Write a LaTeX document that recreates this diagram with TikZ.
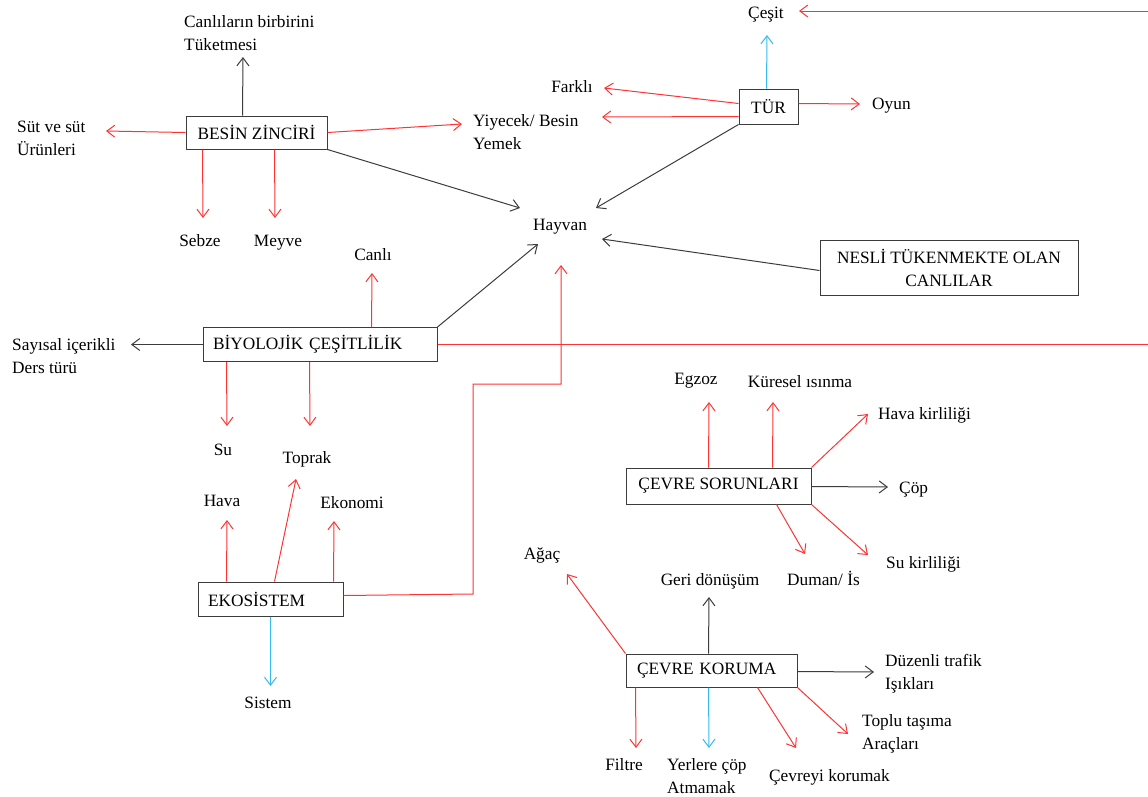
\documentclass[tikz,border=0pt]{standalone}
\usepackage{fontspec}
\setmainfont{Liberation Serif}
\usetikzlibrary{arrows.meta,calc}
\definecolor{linkred}{RGB}{255,51,51}
\definecolor{linkgray}{RGB}{60,60,60}
\definecolor{linkblue}{RGB}{51,187,238}
\begin{document}
\begin{tikzpicture}[x=1pt,y=-1pt,
  every node/.style={font=\fontsize{17.3}{23}\selectfont, inner sep=0pt},
  box/.style={draw=linkgray, line width=1pt, rectangle, align=center},
  lbox/.style={box, align=left, inner xsep=10pt},
  lbl/.style={anchor=base},
  lblw/.style={anchor=base west},
  blk/.style={anchor=west, align=left},
  conn/.style={line width=1pt, -{Straight Barb[length=8pt,width=12pt]}},
  redarrow/.style={conn, draw=linkred},
  grayarrow/.style={conn, draw=linkgray},
  bluearrow/.style={conn, draw=linkblue},
  redline/.style={line width=1pt, draw=linkred},
]
\useasboundingbox (0,0) rectangle (1148,796);

% ---------- boxes ----------
\node[box, minimum width=141pt, minimum height=33pt] (besin) at (256.5,132.5) {BESİN ZİNCİRİ};
\node[box, minimum width=59pt, minimum height=35pt] (tur) at (768.5,106.5) {TÜR};
\node[box, minimum width=258pt, minimum height=55pt] (nesli) at (949,267.5) {NESLİ TÜKENMEKTE OLAN\\CANLILAR};
\node[lbox, text width=214pt, minimum height=34pt] (bio) at (320,344.5) {BİYOLOJİK ÇEŞİTLİLİK};
\node[lbox, text width=125pt, minimum height=34pt] (eko) at (270.5,599) {EKOSİSTEM};
\node[box, minimum width=185pt, minimum height=36pt] (sorun) at (718.5,486) {ÇEVRE SORUNLARI};
\node[lbox, inner xsep=11pt, text width=149pt, minimum height=33pt] (koruma) at (711.5,670.5) {ÇEVRE KORUMA};

% ---------- labels ----------
\node[blk] (canlilar) at (184,33) {Canlıların birbirini\\Tüketmesi};
\node[blk] (sut) at (17,138) {Süt ve süt\\Ürünleri};
\node[lbl] (sebze) at (200,246) {Sebze};
\node[lbl] (meyve) at (278,246) {Meyve};
\node[blk] (yiyecek) at (473,132) {Yiyecek/ Besin\\Yemek};
\node[lbl] (farkli) at (572,92) {Farklı};
\node[lbl] (cesit) at (766,18) {Çeşit};
\node[lblw] (oyun) at (872,109) {Oyun};
\node[lbl] (hayvan) at (560,230) {Hayvan};
\node[lbl] (canli) at (373,260) {Canlı};
\node[blk] (sayisal) at (12,356) {Sayısal içerikli\\Ders türü};
\node[lbl] (su) at (223,455) {Su};
\node[lbl] (toprak) at (307,463) {Toprak};
\node[lbl] (hava) at (222,506) {Hava};
\node[lbl] (ekonomi) at (352,508) {Ekonomi};
\node[lbl] (sistem) at (268,708) {Sistem};
\node[lbl] (egzoz) at (696,384) {Egzoz};
\node[lbl] (kuresel) at (800,387) {Küresel ısınma};
\node[lblw] (havakir) at (878,419) {Hava kirliliği};
\node[lblw] (cop) at (899,493) {Çöp};
\node[lblw] (sukir) at (886,568) {Su kirliliği};
\node[lblw] (duman) at (787,585) {Duman/ İs};
\node[lbl] (geri) at (710,585) {Geri dönüşüm};
\node[lbl] (agac) at (542,559) {Ağaç};
\node[blk] (duzenli) at (885,674) {Düzenli trafik\\Işıkları};
\node[blk] (toplu) at (862,734) {Toplu taşıma\\Araçları};
\node[lblw] (cevreyi) at (769,781) {Çevreyi korumak};
\node[lbl] (filtre) at (624,770) {Filtre};
\node[blk] (yerlere) at (667,776) {Yerlere çöp\\Atmamak};

% ---------- page-edge ends of the long red link ----------
\coordinate (edgeTop) at (1148,11);
\coordinate (edgeMid) at (1148,344.5);

% ---------- BESİN ZİNCİRİ ----------
\draw[grayarrow] ($(besin.north west)+(57,0)$) -- (243,57);
\draw[redarrow] (besin.west) -- (106,131);
\draw[redarrow] ($(besin.south west)+(17,0)$) -- (203,218);
\draw[redarrow] ($(besin.south west)+(89,0)$) -- (275,218);
\draw[redarrow] (besin.east) -- (462,124);
\draw[grayarrow] (besin.south east) -- (520,208);

% ---------- TÜR ----------
\draw[redarrow] ($(tur.north west)+(0,15)$) -- (604,88);
\draw[redarrow] ($(tur.north west)+(0,28)$) -- (602,117);
\draw[bluearrow] ($(tur.north west)+(28,0)$) -- (767,35);
\draw[redarrow] ($(tur.north east)+(0,15)$) -- (860,104);
\draw[grayarrow] (tur.south west) -- (596,208);
\draw[redarrow] (edgeTop) -- (799,11);

% ---------- NESLİ TÜKENMEKTE OLAN CANLILAR ----------
\draw[grayarrow] ($(nesli.north west)+(0,31)$) -- (602,239);

% ---------- BİYOLOJİK ÇEŞİTLİLİK ----------
\draw[grayarrow] (bio.north east) -- (538,244);
\draw[redarrow] ($(bio.north west)+(169,0)$) -- (372,273);
\draw[grayarrow] (bio.west) -- (131,344.5);
\draw[redarrow] ($(bio.south west)+(24,0)$) -- (227,426);
\draw[redarrow] ($(bio.south west)+(107,0)$) -- (310,426);
\draw[redline] (bio.east) -- (edgeMid);

% ---------- EKOSİSTEM ----------
\draw[redarrow] ($(eko.north west)+(29,0)$) -- (227,520);
\draw[redarrow] ($(eko.north west)+(77,0)$) -- (296,479);
\draw[redarrow] ($(eko.north west)+(136,0)$) -- (334,521);
\draw[bluearrow] (eko.south) -- (270.5,686);
\draw[redarrow] ($(eko.north east)+(0,14)$) -- (473,594) -- (473,384) -- (561,384) -- (561,265);

% ---------- ÇEVRE SORUNLARI ----------
\draw[redarrow] ($(sorun.north west)+(83,0)$) -- (709,402);
\draw[redarrow] ($(sorun.north west)+(147,0)$) -- (773,402);
\draw[redarrow] (sorun.north east) -- (868,414);
\draw[grayarrow] ($(sorun.north east)+(0,19)$) -- (888,487);
\draw[redarrow] (sorun.south east) -- (868,555);
\draw[redarrow] ($(sorun.south west)+(151,0)$) -- (805,554);

% ---------- ÇEVRE KORUMA ----------
\draw[redarrow] (koruma.north west) -- (567,574);
\draw[grayarrow] ($(koruma.north west)+(83,0)$) -- (709,597);
\draw[grayarrow] ($(koruma.north east)+(0,18)$) -- (874,672);
\draw[redarrow] (koruma.south east) -- (848,734);
\draw[redarrow] ($(koruma.south west)+(132,0)$) -- (796,748);
\draw[redarrow] ($(koruma.south west)+(10,0)$) -- (636,748);
\draw[bluearrow] ($(koruma.south west)+(83,0)$) -- (709,748);
\end{tikzpicture}
\end{document}
